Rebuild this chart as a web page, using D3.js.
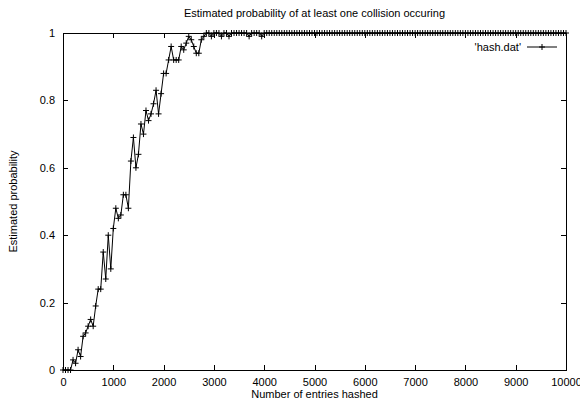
<!DOCTYPE html>
<html>
<head>
<meta charset="utf-8">
<script src="https://cdn.jsdelivr.net/npm/d3@7/dist/d3.min.js"></script>
<style>
  html, body { margin: 0; padding: 0; background: #fff; }
  svg { display: block; }
  text { font-family: "Liberation Sans", Arial, sans-serif; font-size: 11px; fill: #000; }
</style>
</head>
<body>
<svg id="chart" width="580" height="405"></svg>
<script>
// entries hashed (x) and estimated probability (y)
const entries = [
  0, 50, 100, 150, 200, 250, 300, 350, 400, 450,
  500, 550, 600, 650, 700, 750, 800, 850, 900, 950,
  1000, 1050, 1100, 1150, 1200, 1250, 1300, 1350, 1400, 1450,
  1500, 1550, 1600, 1650, 1700, 1750, 1800, 1850, 1900, 1950,
  2000, 2050, 2100, 2150, 2200, 2250, 2300, 2350, 2400, 2450,
  2500, 2550, 2600, 2650, 2700, 2750, 2800, 2850, 2900, 2950,
  3000, 3050, 3100, 3150, 3200, 3250, 3300, 3350, 3400, 3450,
  3500, 3550, 3600, 3650, 3700, 3750, 3800, 3850, 3900, 3950,
  4000, 4050, 4100, 4150, 4200, 4250, 4300, 4350, 4400, 4450,
  4500, 4550, 4600, 4650, 4700, 4750, 4800, 4850, 4900, 4950,
  5000, 5050, 5100, 5150, 5200, 5250, 5300, 5350, 5400, 5450,
  5500, 5550, 5600, 5650, 5700, 5750, 5800, 5850, 5900, 5950,
  6000, 6050, 6100, 6150, 6200, 6250, 6300, 6350, 6400, 6450,
  6500, 6550, 6600, 6650, 6700, 6750, 6800, 6850, 6900, 6950,
  7000, 7050, 7100, 7150, 7200, 7250, 7300, 7350, 7400, 7450,
  7500, 7550, 7600, 7650, 7700, 7750, 7800, 7850, 7900, 7950,
  8000, 8050, 8100, 8150, 8200, 8250, 8300, 8350, 8400, 8450,
  8500, 8550, 8600, 8650, 8700, 8750, 8800, 8850, 8900, 8950,
  9000, 9050, 9100, 9150, 9200, 9250, 9300, 9350, 9400, 9450,
  9500, 9550, 9600, 9650, 9700, 9750, 9800, 9850, 9900, 9950,
  10000
];
const probability = [
  0, 0, 0, 0, 0.03, 0.02, 0.06, 0.04, 0.10, 0.11,
  0.13, 0.15, 0.13, 0.19, 0.24, 0.24, 0.35, 0.27, 0.40, 0.30,
  0.42, 0.48, 0.45, 0.46, 0.52, 0.52, 0.48, 0.62, 0.69, 0.60,
  0.64, 0.73, 0.70, 0.77, 0.74, 0.76, 0.79, 0.83, 0.76, 0.82,
  0.88, 0.88, 0.92, 0.96, 0.92, 0.92, 0.92, 0.96, 0.95, 0.97,
  0.99, 0.98, 0.96, 0.94, 0.94, 0.98, 0.99, 1, 1, 0.99,
  1, 1, 1, 0.99, 1, 1, 0.99, 1, 1, 1,
  1, 1, 1, 1, 0.99, 1, 1, 1, 1, 0.99,
  1, 1, 1, 1, 1, 1, 1, 1, 1, 1,
  1, 1, 1, 1, 1, 1, 1, 1, 1, 1,
  1, 1, 1, 1, 1, 1, 1, 1, 1, 1,
  1, 1, 1, 1, 1, 1, 1, 1, 1, 1,
  1, 1, 1, 1, 1, 1, 1, 1, 1, 1,
  1, 1, 1, 1, 1, 1, 1, 1, 1, 1,
  1, 1, 1, 1, 1, 1, 1, 1, 1, 1,
  1, 1, 1, 1, 1, 1, 1, 1, 1, 1,
  1, 1, 1, 1, 1, 1, 1, 1, 1, 1,
  1, 1, 1, 1, 1, 1, 1, 1, 1, 1,
  1, 1, 1, 1, 1, 1, 1, 1, 1, 1,
  1, 1, 1, 1, 1, 1, 1, 1, 1, 1,
  1
];
const xTicks = [0, 1000, 2000, 3000, 4000, 5000, 6000, 7000, 8000, 9000, 10000];
const yTicks = [0, 0.2, 0.4, 0.6, 0.8, 1];

const title = 'Estimated probability of at least one collision occuring';
const xLabel = 'Number of entries hashed';
const yLabel = 'Estimated probability';
const seriesName = "'hash.dat'";

const margin = { left: 63, right: 14, top: 33, bottom: 35 };
const W = 580, H = 405;
const svg = d3.select('#chart');

const x = d3.scaleLinear().domain([0, 10000]).range([margin.left, W - margin.right]);
const y = d3.scaleLinear().domain([0, 1]).range([H - margin.bottom, margin.top]);
const tickLen = 5;
const fmtY = (d) => d === 0 || d === 1 ? String(d) : d3.format('.1f')(d);

// gnuplot style mirrored inward ticks
svg.append('g')
  .attr('transform', `translate(0,${y(0)})`)
  .call(d3.axisBottom(x).tickValues(xTicks).tickFormat(d3.format('d')).tickSizeInner(-tickLen).tickSizeOuter(0).tickPadding(8))
  .call((g) => g.select('.domain').remove())
  .call((g) => g.selectAll('text').style('font-size', '11px').style('font-family', null));

svg.append('g')
  .attr('transform', `translate(0,${y(1)})`)
  .call(d3.axisTop(x).tickValues(xTicks).tickSizeInner(-tickLen).tickSizeOuter(0).tickFormat(''))
  .call((g) => g.select('.domain').remove());

svg.append('g')
  .attr('transform', `translate(${x(0)},0)`)
  .call(d3.axisLeft(y).tickValues(yTicks).tickFormat(fmtY).tickSizeInner(-tickLen).tickSizeOuter(0).tickPadding(8))
  .call((g) => g.select('.domain').remove())
  .call((g) => g.selectAll('text').style('font-size', '11px').style('font-family', null));

svg.append('g')
  .attr('transform', `translate(${x(10000)},0)`)
  .call(d3.axisRight(y).tickValues(yTicks).tickSizeInner(-tickLen).tickSizeOuter(0).tickFormat(''))
  .call((g) => g.select('.domain').remove());

svg.selectAll('.tick line').attr('stroke', '#000').attr('shape-rendering', 'crispEdges');

// frame
svg.append('rect')
  .attr('x', x(0)).attr('y', y(1))
  .attr('width', x(10000) - x(0)).attr('height', y(0) - y(1))
  .attr('fill', 'none').attr('stroke', '#000').attr('shape-rendering', 'crispEdges');

const pts = entries.map((e, i) => [e, probability[i]]);

svg.append('path')
  .datum(pts)
  .attr('fill', 'none')
  .attr('stroke', '#000')
  .attr('stroke-width', 1)
  .attr('d', d3.line().x((d) => x(d[0])).y((d) => y(d[1])));

const plus = (px, py, s) => `M${px - s},${py}H${px + s}M${px},${py - s}V${py + s}`;

svg.append('path')
  .attr('fill', 'none')
  .attr('stroke', '#000')
  .attr('stroke-width', 1)
  .attr('d', pts.map((d) => plus(x(d[0]), y(d[1]), 3)).join(''));

// key
const keyY = 47;
svg.append('text').attr('x', 521).attr('y', keyY + 4).attr('text-anchor', 'end').text(seriesName);
svg.append('line').attr('x1', 527).attr('x2', 557).attr('y1', keyY).attr('y2', keyY).attr('stroke', '#000');
svg.append('path').attr('d', plus(542, keyY, 3)).attr('stroke', '#000');

// titles
svg.append('text').attr('x', (x(0) + x(10000)) / 2).attr('y', 17).attr('text-anchor', 'middle').text(title);
svg.append('text').attr('x', (x(0) + x(10000)) / 2).attr('y', 398).attr('text-anchor', 'middle').text(xLabel);
svg.append('text')
  .attr('transform', `translate(17,${(y(0) + y(1)) / 2}) rotate(-90)`)
  .attr('text-anchor', 'middle')
  .text(yLabel);
</script>
</body>
</html>
